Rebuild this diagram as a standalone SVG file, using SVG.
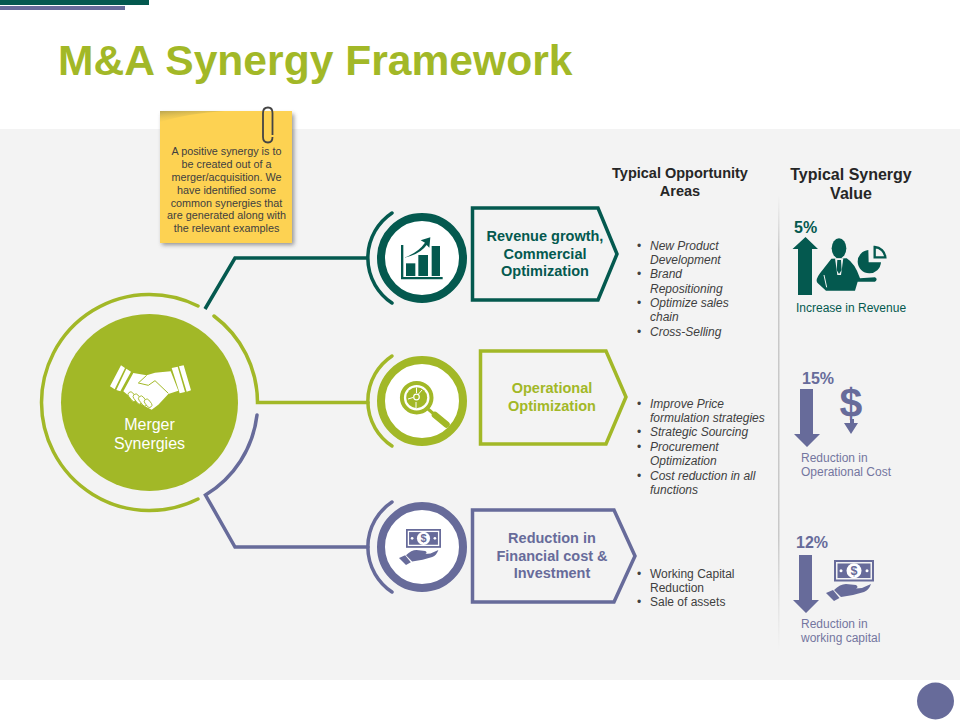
<svg xmlns="http://www.w3.org/2000/svg" width="960" height="720" viewBox="0 0 960 720">
<style>
text{font-family:"Liberation Sans",Arial,sans-serif}
.head{font-size:14.5px;font-weight:bold;text-anchor:middle}
.col{font-size:14.5px;font-weight:bold;fill:#262626;text-anchor:middle}
.note{font-size:10.8px;fill:#404040;text-anchor:middle}
.li{font-size:12px;font-style:italic;fill:#404040}
.li2{font-size:12px;fill:#404040}
.pct{font-size:16px;font-weight:bold}
.cap{font-size:12px}
.teal{fill:#04594f}.green{fill:#a2b827}.purple{fill:#676b9a}
.lcap{fill:#74769f}
.arc{fill:none;stroke-width:3.500;stroke-linecap:round}
.ln{fill:none;stroke-width:3.500;stroke-linejoin:miter}
.pent{fill:none;stroke-width:3.500}
</style>
<defs>
<linearGradient id="div" x1="0" y1="0" x2="0" y2="1">
<stop offset="0" stop-color="#d0d0d0" stop-opacity="0"/>
<stop offset=".12" stop-color="#c8c8c8"/>
<stop offset=".75" stop-color="#c8c8c8"/>
<stop offset="1" stop-color="#d0d0d0" stop-opacity="0"/>
</linearGradient>
<linearGradient id="fold" x1="0" y1="0" x2=".5" y2="1">
<stop offset="0" stop-color="#a89a50" stop-opacity=".8"/>
<stop offset="1" stop-color="#fdd252" stop-opacity="0"/>
</linearGradient>
<filter id="sh" x="-10%" y="-10%" width="120%" height="120%"><feGaussianBlur stdDeviation="2"/></filter>
<symbol id="money" overflow="visible">
<rect x="1" y="1" width="38" height="19.500" fill="none" stroke="currentColor" stroke-width="2"/>
<rect x="3.500" y="3.500" width="33" height="14.500" fill="currentColor"/>
<ellipse cx="20" cy="10.700" rx="7.500" ry="7.500" fill="#fff"/>
<circle cx="7" cy="10.700" r="1.500" fill="#fff"/><circle cx="33" cy="10.700" r="1.500" fill="#fff"/>
<text x="20" y="15.200" font-size="12.500" font-weight="bold" text-anchor="middle" fill="currentColor">$</text>
<path d="M0,30 Q6,24 12,24 L22,25 Q25,27 22,28.500 L28,28 L37,24 Q35,30 30,32 L19,35 L7,37 Z" fill="currentColor"/>
<path d="M-8,33 L-1,30 L5.500,38 L0,41 Z" fill="currentColor"/>
</symbol>
</defs>

<rect x="0" y="0" width="960" height="720" fill="#fff"/>
<rect x="0" y="129" width="960" height="551" fill="#f3f3f3"/>
<rect x="0" y="0" width="149" height="5" fill="#04594f"/>
<rect x="0" y="6" width="125" height="4" fill="#676b9a"/>
<text x="58" y="75" font-size="42.600" font-weight="bold" class="green">M&amp;A Synergy Framework</text>

<g id="connectors">
<path class="ln" stroke="#04594f" d="M205,309 L235,258 L368,258"/>
<path class="ln" stroke="#a2b827" d="M214,316 A108,108 0 0 1 257.500,402.500 L368,402.500" stroke-linecap="round"/>
<path class="ln" stroke="#676b9a" d="M257,415 A108,108 0 0 1 205.500,495 L235,547 L368,547" stroke-linecap="round"/>
</g>

<g id="note">
<rect x="162" y="114" width="132" height="131" fill="#555" opacity=".6" filter="url(#sh)"/>
<rect x="160" y="111" width="132" height="132" fill="#fdd252"/>
<path d="M160,111 H225 Q190,113 160,122 Z" fill="url(#fold)"/>
<path d="M272.500,135 V113 Q272.500,107.500 268,107.500 Q263,107.500 263,113 V137 Q263,142.500 268,142.500 Q272.500,142.500 272.500,137" fill="none" stroke="#444" stroke-width="1.800"/>
<text class="note"><tspan x="226.500" y="155">A positive synergy is to</tspan><tspan x="226.500" y="168">be created out of a</tspan><tspan x="226.500" y="181">merger/acquisition. We</tspan><tspan x="226.500" y="194">have identified some</tspan><tspan x="226.500" y="207">common synergies that</tspan><tspan x="226.500" y="219">are generated along with</tspan><tspan x="226.500" y="232">the relevant examples</tspan></text>
</g>

<g id="merger">
<path class="arc" stroke="#a2b827" d="M198,306 A108,108 0 1 0 198,499"/>
<circle cx="149.500" cy="402.500" r="88.500" fill="#a2b827"/>
<g transform="translate(105,358) scale(.33333)">
<path d="M15,85 L48,22 L60,30 L29,94 Z M64,32 L78,41 L46,100 L34,96 Z M200,30 L218,26 L240,102 L224,106 Z M222,25 L236,22 L258,97 L245,101 Z" fill="#fff"/>
<path d="M85,45 L125,52 L150,44 L197,40 L220,98 L190,108 L160,140 L140,155 L120,145 L85,125 L55,100 Z" fill="#fff"/>
<path d="M125,52 L100,75 L130,82 L150,68 L190,106" fill="none" stroke="#a2b827" stroke-width="3"/>
<g fill="#fff" stroke="#a2b827" stroke-width="2.500">
<rect x="74" y="100" width="16" height="32" rx="8" transform="rotate(-38 82 116)"/>
<rect x="90" y="106" width="16" height="34" rx="8" transform="rotate(-38 98 123)"/>
<rect x="106" y="112" width="16" height="34" rx="8" transform="rotate(-38 114 129)"/>
<rect x="122" y="122" width="15" height="28" rx="7.500" transform="rotate(-38 129 136)"/>
</g>
</g>
<text x="149.500" y="430" font-size="16" fill="#fff" text-anchor="middle">Merger</text>
<text x="149.500" y="449" font-size="16" fill="#fff" text-anchor="middle">Synergies</text>
</g>

<g id="revenue">
<path class="arc" stroke="#04594f" d="M392,213 A54,54 0 0 0 392,303"/>
<circle cx="422" cy="258" r="41" fill="#fff" stroke="#04594f" stroke-width="8"/>
<g transform="translate(350,195) scale(.33333)" fill="#04594f">
<path d="M153,150 H160 V246 H278 V253 H153 Z"/>
<rect x="168" y="205" width="28" height="38"/><rect x="205" y="180" width="29" height="63"/><rect x="245" y="153" width="25" height="90"/>
<path d="M163,188 Q205,172 225,143 L212,136 L241,127 L238,158 L230,150 Q210,178 163,188 Z"/>
</g>
<polygon class="pent" stroke="#04594f" points="472.500,208 598,208 617,254 598,300 472.500,300"/>
<text class="head teal"><tspan x="545" y="241">Revenue growth,</tspan><tspan x="545" y="259">Commercial</tspan><tspan x="545" y="276">Optimization</tspan></text>
</g>

<g id="operational">
<path class="arc" stroke="#a2b827" d="M392,356 A54,54 0 0 0 392,446"/>
<circle cx="422" cy="401" r="41" fill="#fff" stroke="#a2b827" stroke-width="8"/>
<circle cx="416.700" cy="397.700" r="14.800" fill="#fff" stroke="#a2b827" stroke-width="4"/>
<circle cx="416.700" cy="397.700" r="10.500" fill="#a2b827"/>
<path d="M416.500,387.500 V393 M408,399 L413,397.500 M422,390 L418.500,394 M416,402 V408" stroke="#fff" stroke-width="1" fill="none"/>
<circle cx="416.500" cy="397" r="2.800" fill="#a2b827" stroke="#fff" stroke-width="1.200"/>
<path d="M428,409 L435,415" stroke="#a2b827" stroke-width="3"/>
<path d="M435,415 L446.500,424.500" stroke="#a2b827" stroke-width="6.500" stroke-linecap="round"/>
<polygon class="pent" stroke="#a2b827" points="480.500,351 606,351 626,397 606,444 480.500,444"/>
<text class="head green"><tspan x="552" y="393">Operational</tspan><tspan x="552" y="411">Optimization</tspan></text>
</g>

<g id="reduction">
<path class="arc" stroke="#676b9a" d="M392,502 A54,54 0 0 0 392,592"/>
<circle cx="422" cy="547" r="41" fill="#fff" stroke="#676b9a" stroke-width="8"/>
<use href="#money" transform="translate(406,529) scale(.875)" color="#676b9a"/>
<polygon class="pent" stroke="#676b9a" points="472.500,510 614,510 635,556 614,602 472.500,602"/>
<text class="head purple"><tspan x="552" y="543">Reduction in</tspan><tspan x="552" y="561">Financial cost &amp;</tspan><tspan x="552" y="578">Investment</tspan></text>
</g>

<g id="opportunity">
<text class="col"><tspan x="680" y="178">Typical Opportunity</tspan><tspan x="680" y="196">Areas</tspan></text>
<text class="li"><tspan x="650" y="250">New Product</tspan><tspan x="650" y="264">Development</tspan><tspan x="650" y="278">Brand</tspan><tspan x="650" y="293">Repositioning</tspan><tspan x="650" y="307">Optimize sales</tspan><tspan x="650" y="321">chain</tspan><tspan x="650" y="336">Cross-Selling</tspan></text>
<text class="li2"><tspan x="637" y="250">•</tspan><tspan x="637" y="278">•</tspan><tspan x="637" y="307">•</tspan><tspan x="637" y="336">•</tspan></text>
<text class="li"><tspan x="650" y="408">Improve Price</tspan><tspan x="650" y="422">formulation strategies</tspan><tspan x="650" y="436">Strategic Sourcing</tspan><tspan x="650" y="451">Procurement</tspan><tspan x="650" y="465">Optimization</tspan><tspan x="650" y="480">Cost reduction in all</tspan><tspan x="650" y="494">functions</tspan></text>
<text class="li2"><tspan x="637" y="408">•</tspan><tspan x="637" y="436">•</tspan><tspan x="637" y="451">•</tspan><tspan x="637" y="480">•</tspan></text>
<text class="li2"><tspan x="650" y="578">Working Capital</tspan><tspan x="650" y="592">Reduction</tspan><tspan x="650" y="606">Sale of assets</tspan></text>
<text class="li2"><tspan x="637" y="578">•</tspan><tspan x="637" y="606">•</tspan></text>
</g>

<rect x="778" y="195" width="1.500" height="455" fill="url(#div)"/>

<g id="synergy">
<text font-size="16" font-weight="bold" fill="#262626" text-anchor="middle"><tspan x="851" y="180">Typical Synergy</tspan><tspan x="851" y="199">Value</tspan></text>
</g>

<g id="value-revenue">
<text x="794" y="233" class="pct teal">5%</text>
<path d="M805.500,237 L818,249 H812 V295 H798 V249 H792.500 Z" class="teal"/>
<g transform="translate(810,230) scale(.33333)" fill="#04594f">
<ellipse cx="87" cy="55" rx="22" ry="30"/>
<path d="M64,86 L30,130 Q15,150 22,158 L48,182 L135,182 L143,155 L195,155 Q205,148 195,142 L150,145 Q135,100 110,85 Z"/>
<path d="M75,85 H100 L93,135 H82 Z" fill="#f3f3f3"/>
<path d="M82,90 H93 L95,120 L87,132 L80,120 Z"/>
<path d="M42,135 L50,172" stroke="#f3f3f3" stroke-width="3" fill="none"/>
<path d="M175,60 A35,35 0 1 0 213,97 L176,97 Z"/>
<path d="M194,51 A34,34 0 0 1 226,82 L194,82 Z" fill="#f3f3f3" stroke="#04594f" stroke-width="7"/>
</g>
<text x="796" y="312" class="cap teal">Increase in Revenue</text>
</g>

<g id="value-cost">
<text x="802" y="384" class="pct purple">15%</text>
<path d="M800,389 H813 V434 H820 L807,447 L794,434 H800 Z" class="purple"/>
<text x="851" y="417" font-size="41" font-weight="bold" text-anchor="middle" class="purple">$</text>
<path d="M850,419 H854 V423 H858 L851,434 L844,423 H850 Z" class="purple"/>
<text class="cap lcap"><tspan x="801" y="462">Reduction in</tspan><tspan x="801" y="476">Operational Cost</tspan></text>
</g>

<g id="value-capital">
<text x="796" y="548" class="pct purple">12%</text>
<path d="M799,555 H812 V600 H819 L806,613 L793,600 H799 Z" class="purple"/>
<use href="#money" transform="translate(834,560)" color="#676b9a"/>
<text class="cap lcap"><tspan x="801" y="628">Reduction in</tspan><tspan x="801" y="642">working capital</tspan></text>
</g>

<circle id="page" cx="935.500" cy="701" r="18.500" fill="#676b9a"/>
</svg>
